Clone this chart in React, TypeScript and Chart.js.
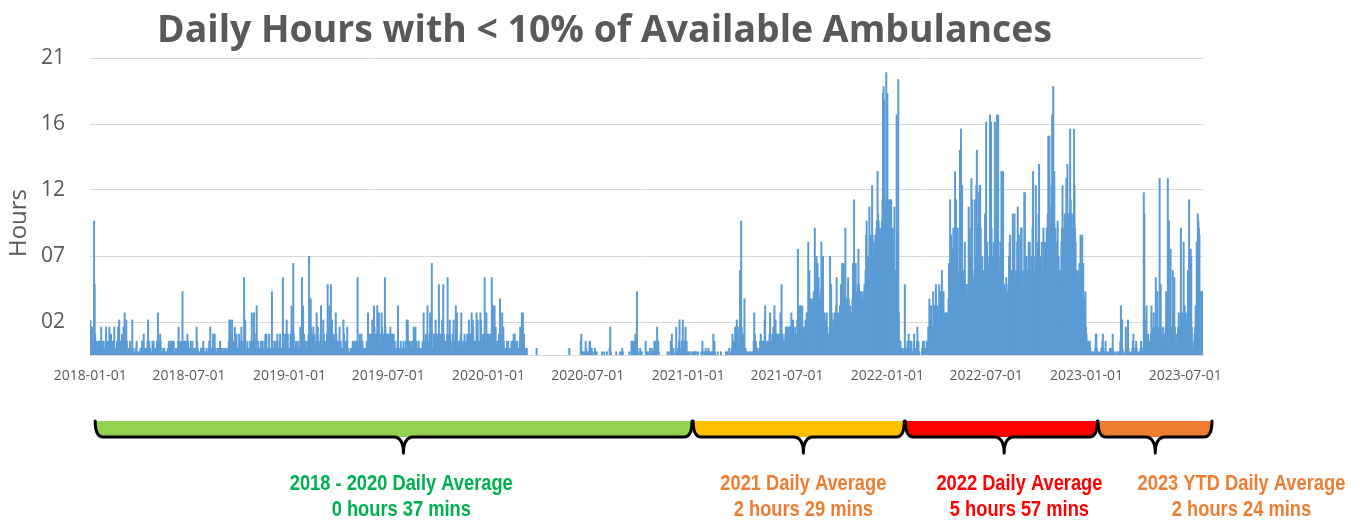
import { useEffect, useRef } from "react";
import { Chart, registerables } from "chart.js";

Chart.register(...registerables);

// Daily values, one character per day starting 2018-01-01.
// Code: '0'..'9','a'..'z','A'..'H' = position x 0.5 hours; '.' = 0.25 hours.
const hours2018H1 = "5424121ja3" + "1.21.12.12" + "421.210124" + "12.214213." + "12.2410.12" + "14251.2132" + "14262152.0" + "01.210.510" + "0.0102.00." + "0.11.21.31" + ".10.12512." + "10.0212.01" + ".121621.32" + "1.001.100." + "0.1121.022" + "2212.0.10." + "12421.2129" + "21.22121321";
const hours2018H2 = "10.21.21.0" + ".1.1421.0." + "0.10.121.0" + "0.10.01214" + "1..13.131." + "0.10.1.2.1" + "1..010.1.0" + "1.12551.35" + "1.2.4213.1" + "1.321.4.12" + "1b15.1.2.1" + "1.2.1612.6" + "2.1371.2.1" + "1.21.2.1.2" + "3.3.1.13.1" + "1.92.1.2.1" + "2.3.1.23.1" + "1.b2.13.25" + "13.1";
const hours2019H1 = "1.32724d3." + "1.2.1.21.1" + "4.2b17.3.2" + "2.1.23e3.8" + "4.3.41321." + "6.4.2.1372" + "1.53.21.23" + "a.4731a.53" + "3.2.3631.2" + "1.4.21.1.5" + "3.21.2410." + "0.1.1.21.2" + "1.2.2b1.23" + "2.3.21.1.1" + "1.2.63.3.3" + "3.53.74.3." + "37.362.3.6" + "4.3.3b4.3.3";
const hours2019H2 = "3.3.42.3.2" + "3.2.1.1270" + ".1.21.1.2." + "1.2.5352.1" + "2.1.2.1423" + "4.2.1.2.1." + "01.2.62.23" + "2.7.2.362." + "d.1.3.35.3" + "3.2a.3.235" + "2a3.2.2.3b" + "3.2532.1.3" + "5.2.7262.1" + "2.2362.1.2" + "3.2.23.253" + "2.363542.2" + "2.6352.2.6" + "5.2.3.3b.2" + "6.3.";
const hours2020H1 = "3.23.3b372" + "37.4.2.2.3" + "2832.6342." + "1.1.2.21.." + "1.2.2.3.3." + "2.2.1.1242" + "3626.3.1.1" + "1000000000" + "0000000010" + "0000000000" + "0000000000" + "0000000000" + "0000000000" + "0000000000" + "0000000010" + "0000000000" + "0000000002" + "3.0.00.021" + ".0";
const hours2020H2 = "0..220110." + "0001.0.000" + "000000.000" + ".0000.0000" + "14.0000000" + "00.000000." + "00.1.00000" + "000000.000" + "2212.12312" + "91.0001.0." + "0000002.00" + ".0001.001." + "0.212.1412" + ".000000000" + "000000.0.0" + "002.31.100" + "0.410.0251" + ".12251.214" + "12.0";
const hours2021H1 = ".0.000.00." + "00...000.0" + "0000.02.00" + "..1.0..1.." + "00.0.03.2." + "0000.00000" + ".00000000." + "0.00010.0." + "13.22.4235" + "241.2c8j43" + "232811.0.0" + "0..0.00.0." + "26322.11.0" + ".1232.1212" + "572.121223" + "6322234272" + "5333323236" + "3a33211234" + "3";
const hours2021H2 = "4434434264" + "3532341335" + "f657574373" + "424354665g" + "8c76867789" + "7ia9ead9b8" + "789ga8e656" + "554643231e" + "6a64455655" + "7b6536477a" + "8d87d86i86" + "48b8627163" + "8d8ma9d898" + "afa7998978" + "59a9chjde9" + "elgfhgohe6" + "gghfijqkji" + "hfigjmBCAm" + "ljEo";
const hours2022H1 = "Bimljmimig" + "idclcbcyie" + "D6212.11.." + "01a101.213" + "1.212.0.13" + "1.012412.0" + "000.1212.1" + ".121243843" + "732495475a" + "65753a6597" + "c689645636" + "168damchac" + "ficeqdmeci" + "abctkweoca" + "bcga8a84al" + "cicepmcba9" + "mecotideno" + "oicae9ca8k" + "a";
const hours2022H2 = "xcgadceygx" + "icebgcxhck" + "yiyecbgaqc" + "eq85a89b86" + "9aegha9cbk" + "cfka9cbglc" + "hacbiia7ca" + "nncae9cag6" + "gacebiqc4c" + "eocdgckrce" + "bcgacicegc" + "eigkvkvigl" + "oykCiqgiec" + "gjceac4cgi" + "ogeikgipir" + "kgikwmikgi" + "kwoigc2ac8" + "ad8hcah6d5" + "8694";
const hours2023H1 = "32212.21.0" + ".00.001331" + ".0.00.01.2" + "31.002.00." + "00.110.13." + "0.000.00.." + "0.27151.00" + "0.410.510." + "00.01231.0" + ".2100.00.1" + "21.01nk425" + "7213121237" + "3246342b43" + "9423p4a323" + "421324934p" + "6j46f343c4" + "6b42123246" + "436i6456g4" + "7";
const hours2023H2 = "36452c6mf9" + "fe41112347" + "4g6kjih989" + "999";

const tickDates = [
  "2018-01-01", "2018-07-01", "2019-01-01", "2019-07-01", "2020-01-01", "2020-07-01",
  "2021-01-01", "2021-07-01", "2022-01-01", "2022-07-01", "2023-01-01", "2023-07-01",
];
const yTickHours = [2.333, 7, 11.667, 16.333, 21];

const chartTitle = "Daily Hours with < 10% of Available Ambulances";
const yAxisTitle = "Hours";
const periodTitles = ["2018 - 2020 Daily Average", "2021 Daily Average", "2022 Daily Average", "2023 YTD Daily Average"];
const periodAverages = ["0 hours 37 mins", "2 hours 29 mins", "5 hours 57 mins", "2 hours 24 mins"];
const periodFills = ["#92D050", "#FFC000", "#FF0000", "#ED7D31"];
const periodTextColors = ["#00B050", "#ED7D31", "#FF0000", "#ED7D31"];

// Bracket layout, in day-index units along the x scale
const bracketLayout = [
  { start: 9, end: 1103, tip: 574, text: 570 },
  { start: 1105, end: 1492, tip: 1307, text: 1307 },
  { start: 1494, end: 1846, tip: 1675, text: 1703 },
  { start: 1847, end: 2056, tip: 1952, text: 2110 },
];

const CODES = "0123456789abcdefghijklmnopqrstuvwxyzABCDEFGH";
function decode(s: string): number[] {
  return s.split("").map((c) => (c === "." ? 0.25 : CODES.indexOf(c) * 0.5));
}

const dailyHours: number[] = [
  hours2018H1, hours2018H2, hours2019H1, hours2019H2, hours2020H1, hours2020H2,
  hours2021H1, hours2021H2, hours2022H1, hours2022H2, hours2023H1, hours2023H2,
].flatMap(decode);

function buildDayLabels(n: number): string[] {
  const out: string[] = [];
  const t0 = Date.UTC(2018, 0, 1);
  for (let i = 0; i < n; i++) out.push(new Date(t0 + i * 86400000).toISOString().slice(0, 10));
  return out;
}
const dayLabels = buildDayLabels(dailyHours.length);
const tickSet = new Set(tickDates);

const GRAY = "#595959";

function drawBrace(ctx: CanvasRenderingContext2D, x0: number, x1: number, tip: number, fill: string) {
  const yTop = 421, yBot = 437, yTip = 453;
  const c = 8, n = 10;
  ctx.beginPath();
  ctx.moveTo(x0, yTop);
  ctx.quadraticCurveTo(x0, yBot, x0 + c, yBot);
  ctx.lineTo(x1 - c, yBot);
  ctx.quadraticCurveTo(x1, yBot, x1, yTop);
  ctx.closePath();
  ctx.fillStyle = fill;
  ctx.fill();

  ctx.beginPath();
  ctx.moveTo(x0, yTop);
  ctx.quadraticCurveTo(x0, yBot, x0 + c, yBot);
  ctx.lineTo(tip - n, yBot);
  ctx.quadraticCurveTo(tip, yBot, tip, yTip);
  ctx.quadraticCurveTo(tip, yBot, tip + n, yBot);
  ctx.lineTo(x1 - c, yBot);
  ctx.quadraticCurveTo(x1, yBot, x1, yTop);
  ctx.strokeStyle = "#000";
  ctx.lineWidth = 3;
  ctx.lineJoin = "round";
  ctx.lineCap = "round";
  ctx.stroke();
}

const overlayPlugin = {
  id: "overlay",
  afterDraw(chart: any) {
    const ctx: CanvasRenderingContext2D = chart.ctx;
    const xs = chart.scales.x;
    ctx.save();

    // Title
    ctx.fillStyle = GRAY;
    ctx.textAlign = "center";
    ctx.textBaseline = "alphabetic";
    ctx.font = "bold 38px 'Open Sans'";
    const tw = ctx.measureText(chartTitle).width;
    const tsx = 895 / tw;
    ctx.save();
    ctx.translate(604.5, 42);
    ctx.scale(tsx, 1);
    ctx.fillText(chartTitle, 0, 0);
    ctx.restore();

    // Y axis title
    ctx.save();
    ctx.translate(19, 223);
    ctx.rotate(-Math.PI / 2);
    ctx.font = "24px 'Open Sans'";
    ctx.textBaseline = "middle";
    ctx.fillStyle = GRAY;
    ctx.fillText(yAxisTitle, 0, 0);
    ctx.restore();

    // Brackets
    bracketLayout.forEach((b, i) => {
      drawBrace(ctx, xs.getPixelForValue(b.start), xs.getPixelForValue(b.end), xs.getPixelForValue(b.tip), periodFills[i]);
    });

    // Period texts
    ctx.font = "bold 22px 'Liberation Sans'";
    const sx = 223 / ctx.measureText(periodTitles[0]).width;
    bracketLayout.forEach((b, i) => {
      ctx.save();
      ctx.translate(xs.getPixelForValue(b.text), 484);
      ctx.scale(sx, 1);
      ctx.fillStyle = periodTextColors[i];
      ctx.textAlign = "center";
      ctx.textBaseline = "middle";
      ctx.fillText(periodTitles[i], 0, 0);
      ctx.fillText(periodAverages[i], 0, 26);
      ctx.restore();
    });

    ctx.restore();
  },
};

export default function App() {
  const ref = useRef<HTMLCanvasElement>(null);
  useEffect(() => {
    if (!ref.current) return;
    const chart = new Chart(ref.current, {
      type: "bar",
      data: {
        labels: dayLabels,
        datasets: [
          {
            data: dailyHours,
            backgroundColor: "#5B9BD5",
            borderWidth: 0,
            barThickness: 2,
            inflateAmount: 0,
          } as any,
        ],
      },
      options: {
        animation: false,
        responsive: false,
        events: [],
        layout: { padding: { left: 0, right: 157, top: 58, bottom: 125 } },
        plugins: {
          legend: { display: false },
          tooltip: { enabled: false },
          title: { display: false },
        },
        scales: {
          x: {
            type: "category",
            offset: true,
            grid: { display: false, drawTicks: false },
            border: { display: true, color: "#D9D9D9", width: 1 },
            ticks: {
              autoSkip: false,
              maxRotation: 0,
              minRotation: 0,
              padding: 13,
              color: GRAY,
              font: { family: "'Open Sans'", size: 14 },
              callback: (_v: any, index: number) => (tickSet.has(dayLabels[index]) ? dayLabels[index] : ""),
            },
            afterFit: (s: any) => {
              s.height = 40;
            },
          },
          y: {
            min: 0,
            max: 21,
            grid: { color: "#D9D9D9", drawTicks: false, lineWidth: 1 },
            border: { display: false },
            ticks: {
              padding: 25,
              color: GRAY,
              font: { family: "'Open Sans'", size: 21 },
              callback: (v: any) => String(Math.round(Number(v))).padStart(2, "0"),
            },
            afterBuildTicks: (s: any) => {
              s.ticks = yTickHours.map((v) => ({ value: v }));
            },
            afterFit: (s: any) => {
              s.width = 90;
            },
          },
        },
      } as any,
      plugins: [overlayPlugin],
    });
    return () => chart.destroy();
  }, []);

  return (
    <div style={{ position: "fixed", left: 0, top: 0, width: 1360, height: 520, background: "#fff" }}>
      <canvas ref={ref} width={1360} height={520} style={{ display: "block" }} />
    </div>
  );
}
